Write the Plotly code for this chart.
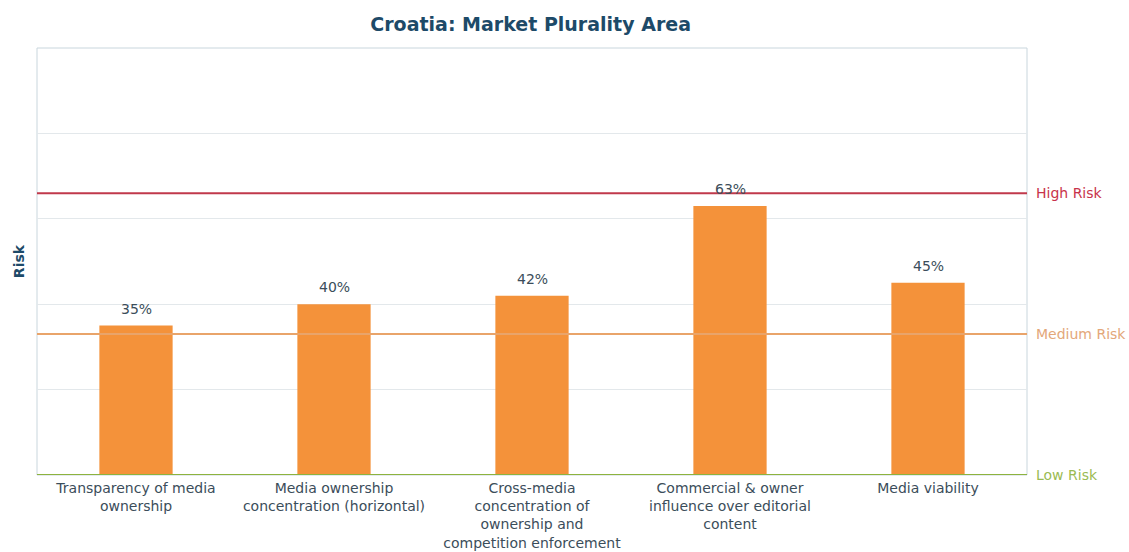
import plotly.graph_objects as go

categories = [
    "Transparency of media<br>ownership",
    "Media ownership<br>concentration (horizontal)",
    "Cross-media<br>concentration of<br>ownership and<br>competition enforcement",
    "Commercial & owner<br>influence over editorial<br>content",
    "Media viability",
]
values = [35, 40, 42, 63, 45]
value_labels = ["35%", "40%", "42%", "63%", "45%"]

risk_names = ["High Risk", "Medium Risk", "Low Risk"]
risk_levels = [66, 33, 0]
risk_line_colors = ["#c0394b", "#e9a46a", "#8db33e"]
risk_text_colors = ["#c8334a", "#e3a77a", "#9bbb52"]

FONT = "DejaVu Sans"
DARK = "#1d4a68"
TEXT = "#3b4d5a"
FRAME = "#c9d6dd"

fig = go.Figure()
fig.add_trace(go.Bar(
    x=categories, y=values,
    marker=dict(color="#f4923a", line=dict(width=0)),
    width=0.37,
    hoverinfo="skip",
))

annotations = []
for c, v, t in zip(categories, values, value_labels):
    annotations.append(dict(
        x=c, y=v, xref="x", yref="y", text=t, showarrow=False,
        yanchor="bottom", yshift=7,
        font=dict(family=FONT, size=14, color=TEXT),
    ))

# plot frame (top, left, right)
shapes = [dict(type="rect", xref="paper", yref="paper", x0=0, x1=1, y0=0, y1=1,
               line=dict(color=FRAME, width=1), layer="below")]
for name, lvl, lc, tc in zip(risk_names, risk_levels, risk_line_colors, risk_text_colors):
    shapes.append(dict(
        type="line", xref="paper", yref="y", x0=0, x1=1, y0=lvl, y1=lvl,
        line=dict(color=lc, width=2), layer="above",
    ))
    annotations.append(dict(
        x=1, y=lvl, xref="paper", yref="y", text=name, showarrow=False,
        xanchor="left", yanchor="middle", xshift=7,
        font=dict(family=FONT, size=14, color=tc),
    ))

fig.update_layout(
    width=1129, height=552,
    margin=dict(l=37, r=102, t=48, b=77),
    paper_bgcolor="white", plot_bgcolor="white",
    title=dict(
        text="<b>Croatia: Market Plurality Area</b>",
        x=0.47, xanchor="center", y=0.955, yanchor="middle",
        font=dict(family=FONT, size=19, color=DARK),
    ),
    showlegend=False,
    annotations=annotations,
    shapes=shapes,
)
fig.update_xaxes(
    showgrid=False, showline=False, automargin=False,
    tickfont=dict(family=FONT, size=14, color=TEXT),
    ticks="", ticklabelstandoff=3,
)
fig.update_yaxes(
    range=[0, 100], dtick=20, showgrid=True, gridcolor="#e3e8eb", gridwidth=1,
    showticklabels=False, ticks="", zeroline=False, showline=False,
    automargin=False,
    title=dict(text="<b>Risk</b>", standoff=8,
               font=dict(family=FONT, size=14, color=DARK)),
)

fig.write_html("out.html")
